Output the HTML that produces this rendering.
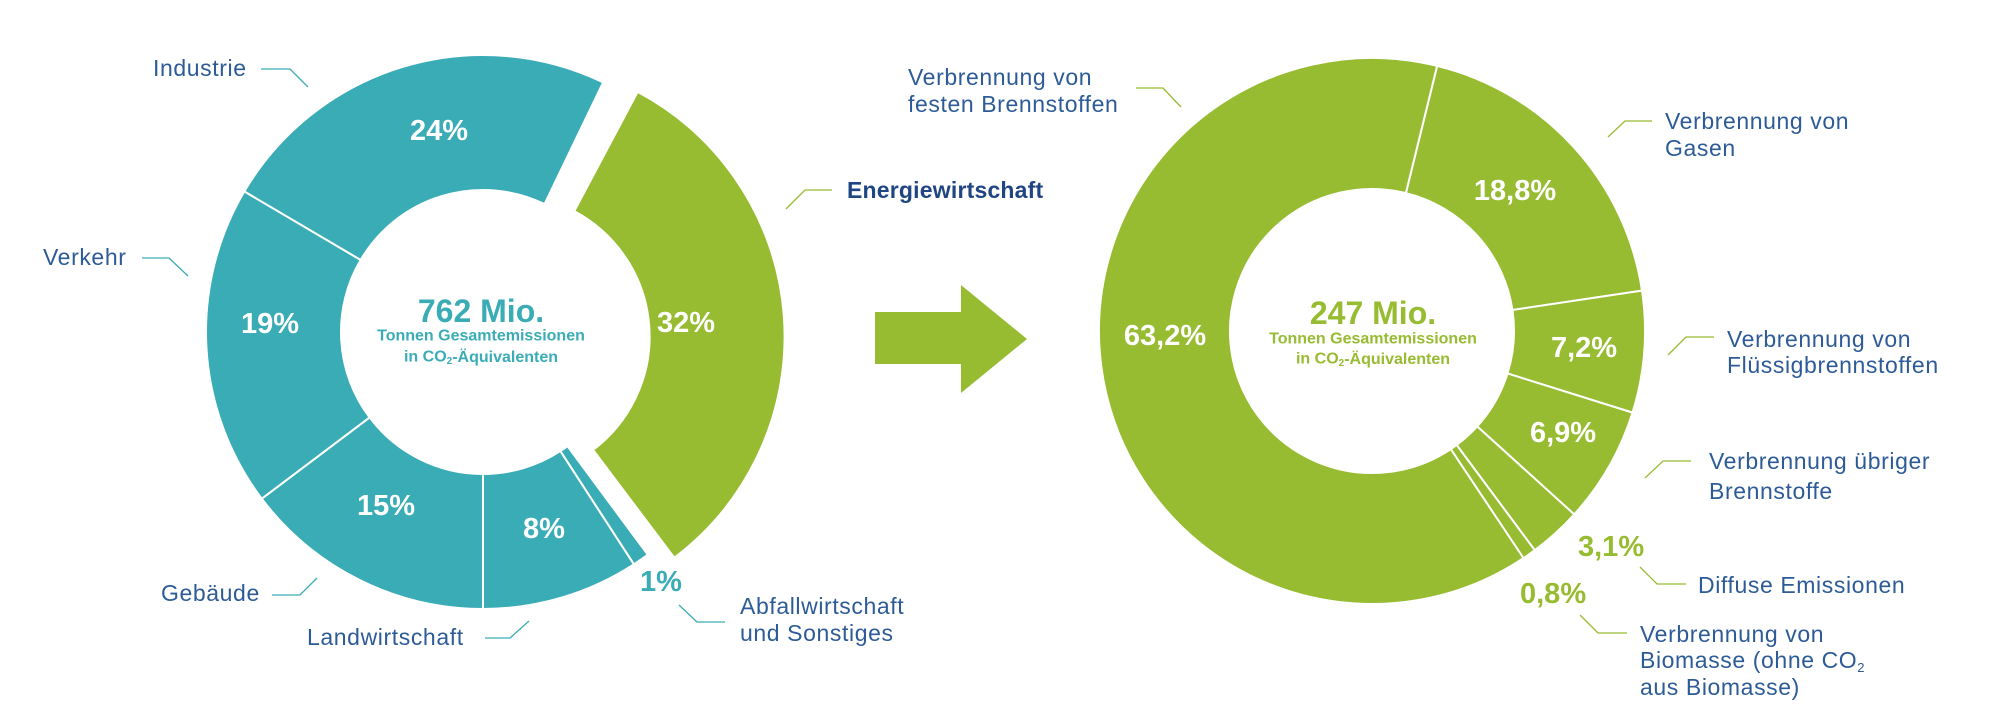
<!DOCTYPE html>
<html><head><meta charset="utf-8"><style>
html,body{margin:0;padding:0;background:#fff;}
svg{display:block;}
text{font-family:"Liberation Sans",sans-serif;}
.lb{font-size:23px;letter-spacing:0.6px;fill:#2d5b97;}
.pc{font-size:29px;font-weight:bold;fill:#fff;text-anchor:middle;dominant-baseline:central;}
</style></head><body>
<svg id="s" width="2000" height="719" viewBox="0 0 2000 719" xmlns="http://www.w3.org/2000/svg">
<g id="segs"></g>
<polygon points="875,312 961,312 961,285 1027,339 961,393 961,364 875,364" fill="#97bc31"/>
<g fill="none" stroke="#3aacb6" stroke-width="1.3">
<polyline points="261,69 290,69 308,87"/>
<polyline points="142,258 169,258 188,276"/>
<polyline points="272,595 300,595 317,578"/>
<polyline points="485,638 510,638 529,621"/>
<polyline points="679,605 697,622 725,622"/>
</g>
<g fill="none" stroke="#97bc31" stroke-width="1.3">
<polyline points="786,209 805,190 832,190"/>
<polyline points="1136,88 1163,88 1181,107"/>
<polyline points="1608,137 1625,121 1652,121"/>
<polyline points="1668,355 1686,337 1714,337"/>
<polyline points="1645,478 1663,461 1691,461"/>
<polyline points="1640,567 1657,584 1686,584"/>
<polyline points="1580,615 1598,633 1627,633"/>
</g>
<g class="lb" dominant-baseline="central">
<text x="153" y="68">Industrie</text>
<text x="43" y="257">Verkehr</text>
<text x="161" y="593">Gebäude</text>
<text x="307" y="637">Landwirtschaft</text>
<text x="740" y="606">Abfallwirtschaft</text>
<text x="740" y="633">und Sonstiges</text>
<text x="847" y="190" style="font-weight:bold;fill:#1f4583;letter-spacing:0.2px">Energiewirtschaft</text>
<text x="908" y="77">Verbrennung von</text>
<text x="908" y="104">festen Brennstoffen</text>
<text x="1665" y="121">Verbrennung von</text>
<text x="1665" y="148">Gasen</text>
<text x="1727" y="339">Verbrennung von</text>
<text x="1727" y="365">Flüssigbrennstoffen</text>
<text x="1709" y="461">Verbrennung übriger</text>
<text x="1709" y="491">Brennstoffe</text>
<text x="1698" y="585">Diffuse Emissionen</text>
<text x="1640" y="634">Verbrennung von</text>
<text x="1640" y="660">Biomasse (ohne CO<tspan font-size="13" dy="7">2</tspan></text>
<text x="1640" y="687">aus Biomasse)</text>
</g>
<text x="640" y="582" style="font-size:29px;font-weight:bold;fill:#3aacb6" dominant-baseline="central">1%</text>
<text x="1578" y="547" style="font-size:29px;font-weight:bold;fill:#97bc31" dominant-baseline="central">3,1%</text>
<text x="1520" y="594" style="font-size:29px;font-weight:bold;fill:#97bc31" dominant-baseline="central">0,8%</text>
<text class="pc" x="439" y="131">24%</text>
<text class="pc" x="270" y="324">19%</text>
<text class="pc" x="386" y="506">15%</text>
<text class="pc" x="544" y="529">8%</text>
<text class="pc" x="686" y="323">32%</text>
<text class="pc" x="1165" y="336">63,2%</text>
<text class="pc" x="1515" y="191">18,8%</text>
<text class="pc" x="1584" y="348">7,2%</text>
<text class="pc" x="1563" y="433">6,9%</text>
<g text-anchor="middle" font-weight="bold" dominant-baseline="central">
<text x="481" y="311" style="font-size:32px;fill:#3aacb6">762 Mio.</text>
<text x="481" y="336" style="font-size:16px;fill:#3aacb6">Tonnen Gesamtemissionen</text>
<text x="481" y="357" style="font-size:16px;fill:#3aacb6">in CO<tspan font-size="10" dy="4">2</tspan><tspan dy="-4">-Äquivalenten</tspan></text>
<text x="1373" y="313" style="font-size:32px;fill:#97bc31">247 Mio.</text>
<text x="1373" y="339" style="font-size:16px;fill:#97bc31">Tonnen Gesamtemissionen</text>
<text x="1373" y="359" style="font-size:16px;fill:#97bc31">in CO<tspan font-size="10" dy="4">2</tspan><tspan dy="-4">-Äquivalenten</tspan></text>
</g>
</svg>
<script>
(function(){
var g=document.getElementById('segs');
function pt(cx,cy,r,a){a=a*Math.PI/180;return [cx+r*Math.sin(a),cy-r*Math.cos(a)];}
function seg(cx,cy,ro,ri,a0,a1,col){
 var l=(a1-a0)>180?1:0;
 var p0=pt(cx,cy,ro,a0),p1=pt(cx,cy,ro,a1),p2=pt(cx,cy,ri,a1),p3=pt(cx,cy,ri,a0);
 var d='M'+p0+' A'+ro+','+ro+' 0 '+l+' 1 '+p1+' L'+p2+' A'+ri+','+ri+' 0 '+l+' 0 '+p3+' Z';
 var e=document.createElementNS('http://www.w3.org/2000/svg','path');
 e.setAttribute('d',d);e.setAttribute('fill',col);e.setAttribute('stroke','#fff');e.setAttribute('stroke-width','2');
 e.setAttribute('stroke-linejoin','round');
 g.appendChild(e);
}
var T='#3aacb6',G='#97bc31';
var cx=483,cy=332,ro=277,ri=142;
seg(cx,cy,ro,ri,143.5,147,T);
seg(cx,cy,ro,ri,147,180,T);
seg(cx,cy,ro,ri,180,233,T);
seg(cx,cy,ro,ri,233,300.5,T);
seg(cx,cy,ro,ri,300.5,385.7,T);
seg(cx+24.6,cy+4.5,ro,ri,28,143,G);
var cx2=1372,cy2=331,ro2=273,ri2=142;
seg(cx2,cy2,ro2,ri2,13.8,81.5,G);
seg(cx2,cy2,ro2,ri2,81.5,107.4,G);
seg(cx2,cy2,ro2,ri2,107.4,132.2,G);
seg(cx2,cy2,ro2,ri2,132.2,143.4,G);
seg(cx2,cy2,ro2,ri2,143.4,146.3,G);
seg(cx2,cy2,ro2,ri2,146.3,373.8,G);
})();
</script>
</body></html>
